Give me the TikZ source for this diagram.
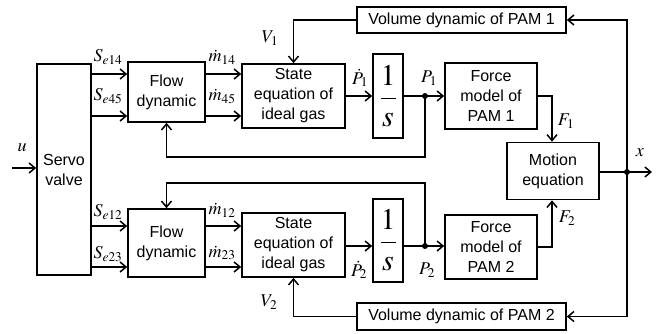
\documentclass[tikz,border=0pt]{standalone}
\usepackage{mathptmx}
\usepackage{fontspec}
\setmainfont{Liberation Sans}
\usetikzlibrary{arrows.meta,calc}
\begin{document}
\begin{tikzpicture}[x=1pt,y=-1pt,
  blk/.style={draw,line width=1.6pt,inner sep=0pt,align=center,font=\fontsize{16}{20}\selectfont},
  conn/.style={line width=1.5pt},
  arr/.style={conn,-{Straight Barb[length=6pt,width=10pt,line width=1.5pt]}},
  lbl/.style={inner sep=0pt,font=\fontsize{18}{20}\selectfont},
  jdot/.style={circle,fill,inner sep=0pt,minimum size=6pt}]
\useasboundingbox (0,0) rectangle (660,333);
% blocks
\node[blk,minimum width=54pt,minimum height=211pt] (servo) at (64,169.5) {Servo\\valve};
\node[blk,minimum width=77pt,minimum height=60pt] (flow1) at (166.5,92) {Flow\\dynamic};
\node[blk,minimum width=103pt,minimum height=64pt] (state1) at (293.5,96) {State\\equation of\\ideal gas};
\node[blk,minimum width=30pt,minimum height=84pt,font=\fontsize{30}{30}\selectfont] (int1) at (388,96) {$\displaystyle\frac{1}{s}$};
\node[blk,minimum width=92pt,minimum height=66pt] (force1) at (491,96) {Force\\model of\\PAM 1};
\node[blk,minimum width=92pt,minimum height=57pt] (motion) at (553,171) {Motion\\equation};
\node[blk,minimum width=209pt,minimum height=26pt] (vol1) at (461.5,20) {Volume dynamic of PAM 1};
\node[blk,minimum width=77pt,minimum height=68pt] (flow2) at (166.5,243) {Flow\\dynamic};
\node[blk,minimum width=103pt,minimum height=64pt] (state2) at (293.5,245) {State\\equation of\\ideal gas};
\node[blk,minimum width=30pt,minimum height=83pt,font=\fontsize{30}{30}\selectfont] (int2) at (388,240.5) {$\displaystyle\frac{1}{s}$};
\node[blk,minimum width=92pt,minimum height=64pt] (force2) at (491,247) {Force\\model of\\PAM 2};
\node[blk,minimum width=209pt,minimum height=27pt] (vol2) at (461.5,316.5) {Volume dynamic of PAM 2};
% coordinates
\coordinate (uin) at (12,168);
\coordinate (ya) at (0,74);
\coordinate (yb) at (0,116);
\coordinate (yc) at (0,226);
\coordinate (yd) at (0,267);
\coordinate (dot1) at (425,96);
\coordinate (dot2) at (425,246);
\coordinate (fb1) at (0,157);
\coordinate (fb2) at (0,183);
\coordinate (fx) at (552,0);
\coordinate (xdot) at (627,172);
\coordinate (xend) at (652,172);
% connectors
\draw[arr] (uin) -- (servo.west |- uin);
\draw[arr] (servo.east |- ya) -- (flow1.west |- ya);
\draw[arr] (servo.east |- yb) -- (flow1.west |- yb);
\draw[arr] (flow1.east |- ya) -- (state1.west |- ya);
\draw[arr] (flow1.east |- yb) -- (state1.west |- yb);
\draw[arr] (servo.east |- yc) -- (flow2.west |- yc);
\draw[arr] (servo.east |- yd) -- (flow2.west |- yd);
\draw[arr] (flow2.east |- yc) -- (state2.west |- yc);
\draw[arr] (flow2.east |- yd) -- (state2.west |- yd);
\draw[arr] (state1.east) -- (int1.west);
\draw[conn] (int1.east) -- (dot1);
\draw[arr] (dot1) -- (force1.west);
\draw[arr] (state2.east |- dot2) -- (int2.west |- dot2);
\draw[conn] (int2.east |- dot2) -- (dot2);
\draw[arr] (dot2) -- (force2.west |- dot2);
\draw[arr] (dot1) -- (dot1 |- fb1) -| (flow1.south);
\draw[arr] (dot2) -- (dot2 |- fb2) -| (flow2.north);
\draw[arr] (vol1.west) -| (state1.north);
\draw[arr] (vol2.west) -| (state2.south);
\draw[arr] (force1.east) -| (fx |- motion.north);
\draw[arr] (force2.east) -| (fx |- motion.south);
\draw[arr] (motion.east |- xdot) -- (xend);
\draw[arr] (xdot) |- (vol1.east);
\draw[arr] (xdot) |- (vol2.east);
\node[jdot] at (dot1) {};
\node[jdot] at (dot2) {};
\node[jdot] at (xdot) {};
% labels
\node[lbl] (lu) at (22,148) {$u$};
\node[lbl] (l1) at (108,57) {$S_{e14}$};
\node[lbl] (l2) at (108,96) {$S_{e45}$};
\node[lbl] (l3) at (222,57) {$\dot m_{14}$};
\node[lbl] (l4) at (222,96) {$\dot m_{45}$};
\node[lbl] (l5) at (270,38) {$V_1$};
\node[lbl] (l6) at (360,78) {$\dot P_1$};
\node[lbl] (l7) at (429,78) {$P_1$};
\node[lbl] (l8) at (566,121) {$F_1$};
\node[lbl] (l9) at (640,153) {$x$};
\node[lbl] (l10) at (108,212) {$S_{e12}$};
\node[lbl] (l11) at (108,254) {$S_{e23}$};
\node[lbl] (l12) at (222,210) {$\dot m_{12}$};
\node[lbl] (l13) at (222,253) {$\dot m_{23}$};
\node[lbl] (l14) at (269,302) {$V_2$};
\node[lbl] (l15) at (359,270) {$\dot P_2$};
\node[lbl] (l16) at (427,270) {$P_2$};
\node[lbl] (l17) at (567,218) {$F_2$};
\end{tikzpicture}
\end{document}
